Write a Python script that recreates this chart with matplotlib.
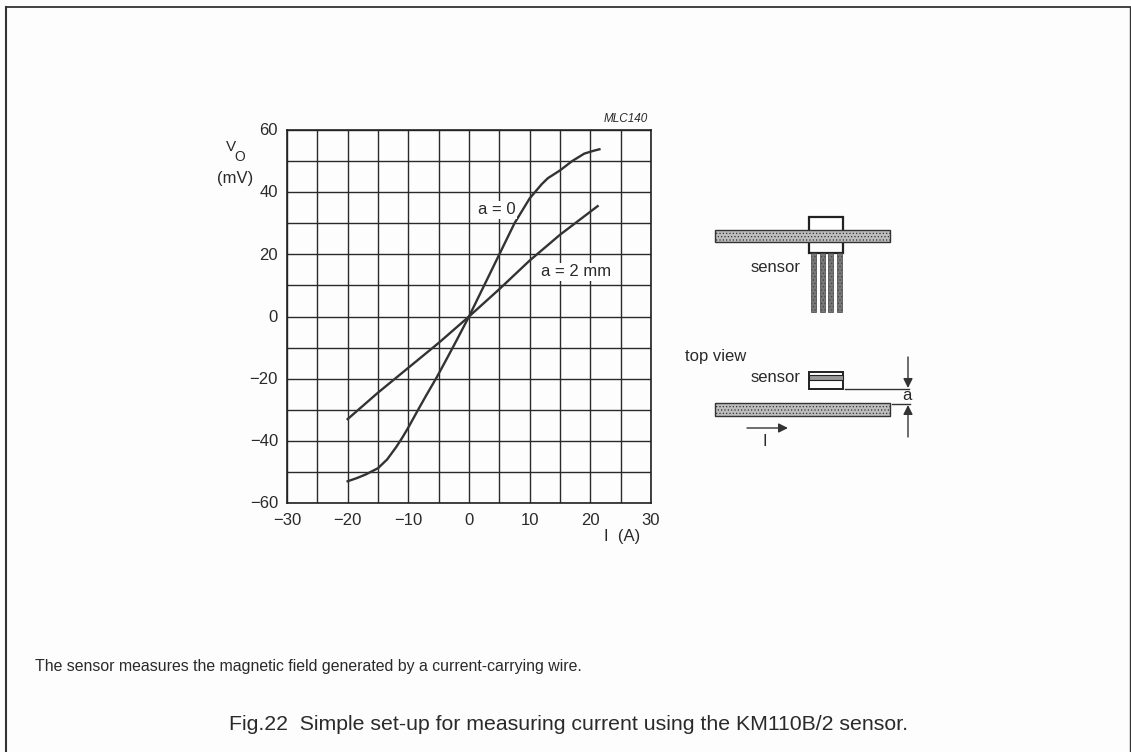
#!/usr/bin/env python3
import numpy as np
import matplotlib as mpl
mpl.use('Agg')
import matplotlib.pyplot as plt
from matplotlib.patches import Rectangle

################################################################################

# curves
i_a0 = [-20, -18.5, -17, -15, -13.5, -12, -11, -10, -8.5, -7, -5.3, -3.5, -2, 0,
        2, 3.5, 5, 7.5, 10, 11, 12, 13, 15, 17, 19, 20.5, 21.5]
v_a0 = [-53, -52, -50.8, -48.8, -46, -42, -39, -35.7, -30.4, -25.2, -19.5, -13, -7.5, 0,
        8, 14, 20, 30, 38, 40.3, 42.6, 44.5, 47, 50, 52.4, 53.3, 53.8]
i_a2 = [-20, -15, -10, -5, 0, 5, 10, 15, 21.2]
v_a2 = [-33, -24.5, -16.5, -8.5, 0, 8.8, 18, 26.3, 35.5]

x_ticks = [-30, -20, -10, 0, 10, 20, 30]
y_ticks = [-60, -40, -20, 0, 20, 40, 60]

W, H = 1131, 752
plt.rcParams['font.family'] = ['Liberation Sans', 'DejaVu Sans']
plt.rcParams['hatch.linewidth'] = 0.5

fig = plt.figure(figsize=(W/100, H/100), dpi=100, facecolor='#fdfdfd')

# overlay in pixel coordinates for the frame, sketch and captions
bg = fig.add_axes([0, 0, 1, 1])
bg.set_xlim(0, W)
bg.set_ylim(H, 0)
bg.axis('off')
bg.set_zorder(3)

ax = fig.add_axes([287/W, 1 - 503/H, 364/W, 373/H])
ax.set_xlim(-30, 30)
ax.set_ylim(-60, 60)
ax.set_facecolor('none')
ax.set_xticks(np.arange(-30, 31, 5))
ax.set_yticks(np.arange(-60, 61, 10))
ax.grid(color='#2a2a2a', lw=1.0)
ax.set_axisbelow(True)
ax.tick_params(length=0, labelleft=False, labelbottom=False)
for s in ax.spines.values():
    s.set_color('#222222')
    s.set_linewidth(1.2)

ax.plot(i_a0, v_a0, color='#333333', lw=1.7)
ax.plot(i_a2, v_a2, color='#333333', lw=1.7)

txt = '#2a2a2a'
for v in x_ticks:
    ax.annotate(str(v).replace('-', '\u2212'), (v, -60), xytext=(0, -12.5), textcoords='offset points',
                ha='center', va='center', fontsize=12, color=txt)
for v in y_ticks:
    ax.annotate(str(v).replace('-', '\u2212'), (-30, v), xytext=(-6.5, -0.5), textcoords='offset points',
                ha='right', va='center', fontsize=12, color=txt)

bg.text(231, 147, 'V', fontsize=11, color=txt, ha='center', va='center')
bg.text(240, 157, 'O', fontsize=10, color=txt, ha='center', va='center')
bg.text(235, 178, '(mV)', fontsize=12, color=txt, ha='center', va='center')
bg.text(604, 536, 'I  (A)', fontsize=12, color=txt, ha='left', va='center')
bg.text(648, 119, 'MLC140', fontsize=8.5, style='italic', color=txt, ha='right', va='center')
bg.text(497, 210, 'a = 0', fontsize=12, color=txt, ha='center', va='center',
        bbox=dict(fc='white', ec='none', pad=1))
bg.text(576, 272, 'a = 2 mm', fontsize=12, color=txt, ha='center', va='center',
        bbox=dict(fc='white', ec='none', pad=1))

# page frame
bg.plot([6, 6], [H, 7], color='#333333', lw=1.5)
bg.plot([6, 1130], [7, 7], color='#333333', lw=1.3)
bg.plot([1130, 1130], [7, H], color='#333333', lw=1)

# sensor sketch
def wire(y0, y1):
    bg.add_patch(Rectangle((715, y0), 175, y1 - y0, fc='#bdbdbd', ec='#333333', lw=1, hatch='.....'))

bg.add_patch(Rectangle((809, 217), 34, 36, fc='white', ec='#222222', lw=1.6))
wire(230, 242)
wire(403, 416)
for x0 in (813, 822, 830, 839):
    bg.add_patch(Rectangle((x0 - 2.5, 253), 5, 59, fc='#777777', ec='#444444', lw=0.5, hatch='.....'))
bg.add_patch(Rectangle((809, 372), 34, 17, fc='white', ec='#222222', lw=1.4))
bg.add_patch(Rectangle((809, 375), 34, 5, fc='#999999', ec='#222222', lw=0.8))
bg.text(776, 268, 'sensor', fontsize=12, color=txt, ha='center', va='center')
bg.text(776, 378, 'sensor', fontsize=12, color=txt, ha='center', va='center')
bg.text(685, 357, 'top view', fontsize=12, color=txt, ha='left', va='center')
bg.plot([845, 909], [389, 389], color='#333333', lw=1)
bg.plot([892, 910], [404, 404], color='#333333', lw=1)
bg.text(907, 396, 'a', fontsize=12, color=txt, ha='center', va='center')
arrow = dict(arrowstyle='-|>', color='#333333', lw=1, mutation_scale=14, shrinkA=0, shrinkB=0)
bg.annotate('', xy=(908, 388), xytext=(908, 357), arrowprops=arrow)
bg.annotate('', xy=(908, 405), xytext=(908, 437), arrowprops=arrow)
bg.annotate('', xy=(788, 428), xytext=(747, 428), arrowprops=arrow)
bg.text(765, 442, 'I', fontsize=12, color=txt, ha='center', va='center')

# captions
bg.text(35, 667, 'The sensor measures the magnetic field generated by a current-carrying wire.',
        fontsize=11.4, color=txt, ha='left', va='center')
bg.text(229, 724, 'Fig.22  Simple set-up for measuring current using the KM110B/2 sensor.',
        fontsize=15.35, color=txt, ha='left', va='center')

fig.savefig('out.png', dpi=100, facecolor=fig.get_facecolor())
